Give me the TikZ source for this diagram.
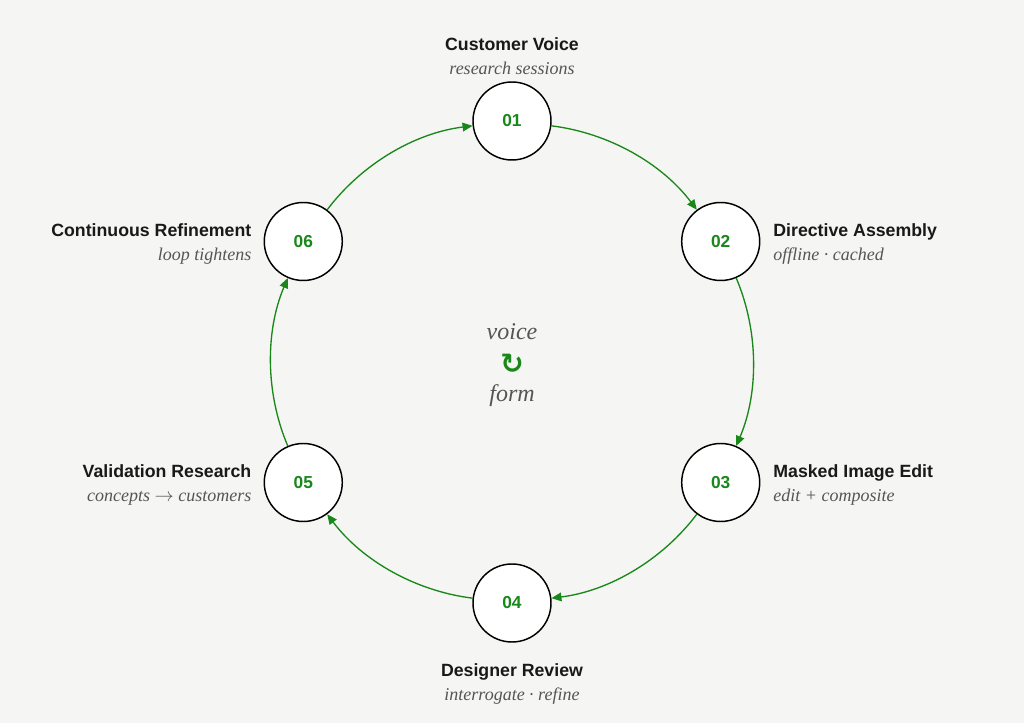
\documentclass[tikz,border=0pt]{standalone}
\usepackage{fontspec}
\setmainfont{Liberation Serif}
\setsansfont{Liberation Sans}
\newfontfamily\symbolfont{DejaVu Sans}
\usetikzlibrary{positioning,arrows.meta}
\definecolor{loopgreen}{RGB}{25,135,25}
\definecolor{subgray}{RGB}{85,85,85}
\definecolor{paper}{RGB}{245,245,243}

\begin{document}
\begin{tikzpicture}
  [x=0.75pt,y=0.75pt,
   stage/.style={circle,draw,fill=white,line width=1.1pt,minimum size=58.5pt,inner sep=0pt,
     text=loopgreen,font=\sffamily\bfseries\fontsize{13}{15}\selectfont},
   title/.style={inner sep=0pt,text=black!90,font=\sffamily\bfseries\fontsize{13.3}{16}\selectfont},
   sub/.style={inner sep=0pt,text=subgray,font=\itshape\fontsize{13.5}{16}\selectfont},
   hub/.style={inner sep=0pt,text=subgray,font=\itshape\fontsize{18}{20}\selectfont},
   flow/.style={draw=loopgreen,line width=1pt,-{Triangle[length=7.5pt,width=6.5pt]},
     bend left=23,looseness=0.88}]
  \fill[paper] (-512,-361) rectangle (512,362);
  % stages round the loop
  \node[stage] (n1) at (90:241)  {01};
  \node[stage] (n2) at (30:241)  {02};
  \node[stage] (n3) at (-30:241) {03};
  \node[stage] (n4) at (-90:241) {04};
  \node[stage] (n5) at (210:241) {05};
  \node[stage] (n6) at (150:241) {06};
  \draw[flow] (n1) to (n2);
  \draw[flow] (n2) to (n3);
  \draw[flow] (n3) to (n4);
  \draw[flow] (n4) to (n5);
  \draw[flow] (n5) to (n6);
  \draw[flow] (n6) to (n1);
  % labels
  \node[sub,anchor=base] (s1) at ([yshift=5pt]n1.north) {research sessions};
  \node[title,anchor=base] (t1) at ([yshift=18pt]s1.base) {Customer Voice};
  \node[title,anchor=base west] (t2) at ([xshift=9.5pt,yshift=3.75pt]n2.east) {Directive Assembly};
  \node[sub,anchor=base west] (s2) at ([yshift=-18pt]t2.base west) {offline · cached};
  \node[title,anchor=base west] (t3) at ([xshift=9.5pt,yshift=3.75pt]n3.east) {Masked Image Edit};
  \node[sub,anchor=base west] (s3) at ([yshift=-18pt]t3.base west) {edit + composite};
  \node[title,anchor=base] (t4) at ([yshift=-25.5pt]n4.south) {Designer Review};
  \node[sub,anchor=base] (s4) at ([yshift=-18pt]t4.base) {interrogate · refine};
  \node[title,anchor=base east] (t5) at ([xshift=-9pt,yshift=3.75pt]n5.west) {Validation Research};
  \node[sub,anchor=base east] (s5) at ([yshift=-18pt]t5.base east) {concepts $\rightarrow$ customers};
  \node[title,anchor=base east] (t6) at ([xshift=-9pt,yshift=3.75pt]n6.west) {Continuous Refinement};
  \node[sub,anchor=base east] (s6) at ([yshift=-18pt]t6.base east) {loop tightens};
  % centre
  \node[hub,anchor=base] (voice) at (0,22) {voice};
  \node[text=loopgreen,inner sep=0pt,font=\symbolfont\bfseries\fontsize{21}{24}\selectfont] (turn) at (0,-2) {↻};
  \node[hub,anchor=base] (form) at (0,-40) {form};
\end{tikzpicture}
\end{document}
